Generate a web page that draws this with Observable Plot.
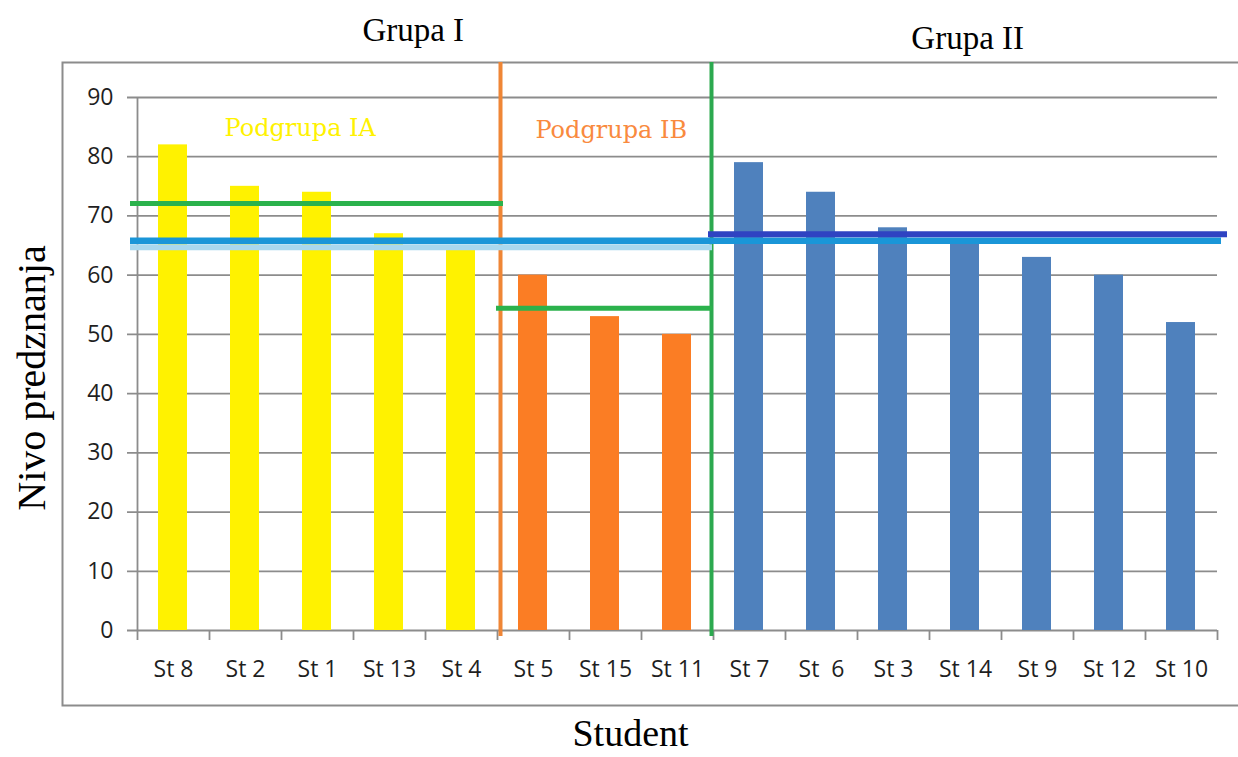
<!DOCTYPE html>
<html>
<head>
<meta charset="utf-8">
<script src="https://cdn.jsdelivr.net/npm/d3@7"></script>
<script src="https://cdn.jsdelivr.net/npm/@observablehq/plot@0.6"></script>
<style>
  body { margin: 0; background: #fff; }
  #chart svg { display: block; }
</style>
</head>
<body>
<div id="chart"></div>
<script>
// ---- data ----
const students  = ["St 8", "St 2", "St 1", "St 13", "St 4", "St 5", "St 15", "St 11", "St 7", "St \u00a06", "St 3", "St 14", "St 9", "St 12", "St 10"];
const scores    = [82, 75, 74, 67, 65, 60, 53, 50, 79, 74, 68, 66, 63, 60, 52];
const subgroups = ["IA", "IA", "IA", "IA", "IA", "IB", "IB", "IB", "II", "II", "II", "II", "II", "II", "II"];
const yTicks    = [0, 10, 20, 30, 40, 50, 60, 70, 80, 90];

// horizontal reference (mean) lines: value, first category index, end index
const refNames  = ["IA", "Ilow", "all", "II", "IB"];
const refValues = [72.1, 64.7, 65.8, 66.9, 54.4];
const refFrom   = [0, 0, 0, 8, 5];
const refTo     = [5, 8, 15, 15, 8];

// group dividers (category boundaries)
const dividers  = [5, 8];

// text annotations
const subLabels = ["Podgrupa IA", "Podgrupa IB"];
const subX      = [2.26, 6.58];
const subY      = [84.8, 84.5];
const groupLabels = ["Grupa I", "Grupa II"];
const groupX    = [3.83, 11.53];
const groupY    = [101.3, 100.0];

// ---- styles ----
const barColor = {IA: "#fff200", IB: "#fb7d24", II: "#4f81bd"};
const refStyle = {
  IA:   {stroke: "#2bb24c", strokeWidth: 5,   insetLeft: -7, insetRight: -6},
  Ilow: {stroke: "#a9d8ee", strokeWidth: 6,   insetLeft: -7, insetRight: 1},
  all:  {stroke: "#1a96d8", strokeWidth: 6.5, insetLeft: -7, insetRight: -4},
  II:   {stroke: "#2f43c2", strokeWidth: 6,   insetLeft: -5, insetRight: -10},
  IB:   {stroke: "#2bb24c", strokeWidth: 5,   insetLeft: -1, insetRight: 1}
};
const dividerColor = ["#ef8636", "#2ca94f"];
const dividerShift = [3, -2];
const gray = "#8c8c8c";
const ink = "#1f1f1f";

const data = students.map((s, i) => ({i, student: s, score: scores[i], sub: subgroups[i]}));
const boundaries = d3.range(0, students.length + 1);

const refMarks = refNames.map((name, k) =>
  Plot.ruleY([refValues[k]], {
    y: d => d, x1: refFrom[k], x2: refTo[k],
    ...refStyle[name]
  })
);

const dividerMarks = dividers.map((b, k) =>
  Plot.ruleX([b], {
    x: d => d, y1: 90, y2: 0,
    stroke: dividerColor[k], strokeWidth: 4,
    dx: dividerShift[k], insetTop: -35, insetBottom: -6
  })
);

const chart = Plot.plot({
  width: 1238,
  height: 757,
  marginLeft: 137,
  marginRight: 21,
  marginTop: 97,
  marginBottom: 127,
  style: {fontFamily: "'Open Sans', sans-serif", fontSize: "23px", color: ink, background: "#fff"},
  x: {type: "linear", domain: [0, students.length], axis: null},
  y: {domain: [0, 90], axis: null},
  marks: [
    // outer chart frame
    Plot.frame({stroke: gray, strokeWidth: 2, insetLeft: -75, insetTop: -35, insetBottom: -75, insetRight: -30}),
    // gridlines (extend left as tick marks)
    Plot.ruleY(yTicks, {y: d => d, stroke: gray, strokeWidth: 1.8, insetLeft: -10}),
    // y axis line
    Plot.ruleX([0], {stroke: gray, strokeWidth: 1.8}),
    // y tick labels
    Plot.text(yTicks, {x: 0, y: d => d, text: d => String(d), textAnchor: "end", dx: -24, fill: ink, fontSize: 23}),
    // x tick marks at category boundaries
    Plot.axisX(boundaries, {tickSize: 10, tickFormat: () => "", label: null, stroke: gray, strokeWidth: 1.8}),
    // x tick labels
    Plot.text(data, {x: d => d.i + 0.5, y: 0, text: "student", dy: 39, fill: ink, fontSize: 23}),
    // bars
    Plot.rectY(data, {x1: "i", x2: d => d.i + 1, y: "score", fill: d => barColor[d.sub], insetLeft: 21, insetRight: 22}),
    // group dividers
    ...dividerMarks,
    // mean lines
    ...refMarks,
    // subgroup labels
    Plot.text(subLabels, {x: (d, k) => subX[k], y: (d, k) => subY[k], text: d => d,
      fill: (d, k) => [barColor.IA, "#f98a3e"][k], fontFamily: "'DejaVu Serif', serif", fontSize: 24}),
    // group titles
    Plot.text(groupLabels, {x: (d, k) => groupX[k], y: (d, k) => groupY[k], text: d => d,
      fill: "#000", fontFamily: "'Liberation Serif', serif", fontSize: 33}),
    // axis titles
    Plot.text(["Nivo predznanja"], {frameAnchor: "left", textAnchor: "middle", rotate: -90, dx: -105, dy: 14, text: d => d,
      fill: "#000", fontFamily: "'Liberation Serif', serif", fontSize: 40}),
    Plot.text(["Student"], {frameAnchor: "bottom", textAnchor: "middle", lineAnchor: "middle", dx: -47, dy: 103, text: d => d,
      fill: "#000", fontFamily: "'Liberation Serif', serif", fontSize: 38})
  ]
});

document.getElementById("chart").append(chart);
</script>
</body>
</html>
